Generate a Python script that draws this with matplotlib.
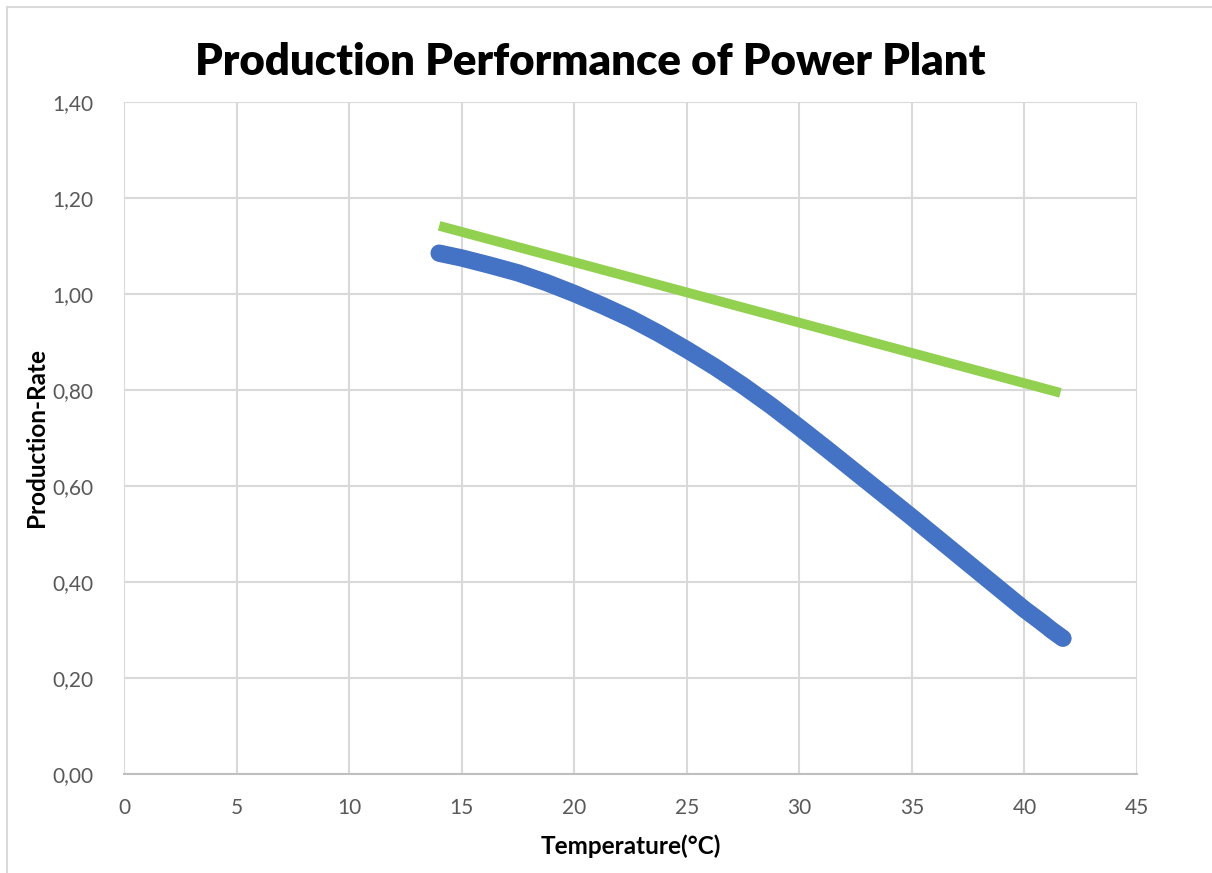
import numpy as np
import matplotlib
matplotlib.use("Agg")
import matplotlib.pyplot as plt
from matplotlib.ticker import FuncFormatter, MultipleLocator
from matplotlib.patches import Rectangle

# values
temp = [14.0, 15.0, 16.25, 17.5, 18.75, 20.0, 21.25, 22.5, 23.75, 25.0, 26.25, 27.5,
        28.75, 30.0, 31.25, 32.5, 33.75, 35.0, 36.25, 37.5, 38.75, 40.0, 40.8, 41.2, 41.7]
rate = [1.085, 1.075, 1.060, 1.044, 1.024, 1.001, 0.976, 0.949, 0.918, 0.884, 0.848, 0.809,
        0.767, 0.722, 0.676, 0.629, 0.582, 0.535, 0.487, 0.439, 0.391, 0.343, 0.315, 0.300, 0.283]

trend_x = [14.0, 41.6]
trend_y = [1.142, 0.794]

plt.rcParams['font.family'] = ['Lato', 'DejaVu Sans']

fig = plt.figure(figsize=(12.12, 8.73), dpi=100)
ax = fig.add_axes([0.1023, 0.1134, 0.8358, 0.7698])

ax.plot(temp, rate, color='#4472C4', linewidth=12.5, solid_capstyle='round',
        solid_joinstyle='round', zorder=3)
ax.plot(temp[-3:], rate[-3:], 'o', color='#4472C4', markersize=11.5, markeredgewidth=0, zorder=3)
ax.plot(trend_x, trend_y, color='#92D050', linewidth=7, solid_capstyle='butt', zorder=4)

ax.set_xlim(0, 45)
ax.set_ylim(0, 1.4)
ax.xaxis.set_major_locator(MultipleLocator(5))
ax.yaxis.set_major_locator(MultipleLocator(0.2))
ax.yaxis.set_major_formatter(FuncFormatter(lambda v, p: f"{v:.2f}".replace('.', ',')))

ax.grid(True, color='#D9D9D9', linewidth=1.5)
ax.set_axisbelow(True)
for s in ['top', 'right', 'left']:
    ax.spines[s].set_visible(False)
ax.spines['bottom'].set_color('#BFBFBF')
ax.spines['bottom'].set_linewidth(1.5)
ax.tick_params(length=0, labelsize=15, colors='#595959')
ax.tick_params(axis='x', pad=17)
ax.tick_params(axis='y', pad=22)

ax.set_xlabel('Temperature(°C)', fontsize=17.5, fontweight='bold', labelpad=12)
ax.set_ylabel('Production-Rate', fontsize=17.5, fontweight='bold', labelpad=3)

fig.text(0.487, 0.929, 'Production Performance of Power Plant', ha='center', va='center',
         fontsize=31.5, fontweight='heavy')

fig.patches.append(Rectangle((0.006, -0.01), 1.0, 1.002, transform=fig.transFigure,
                             fill=False, edgecolor='#D9D9D9', linewidth=1.5))

fig.savefig('out.png', dpi=100)
